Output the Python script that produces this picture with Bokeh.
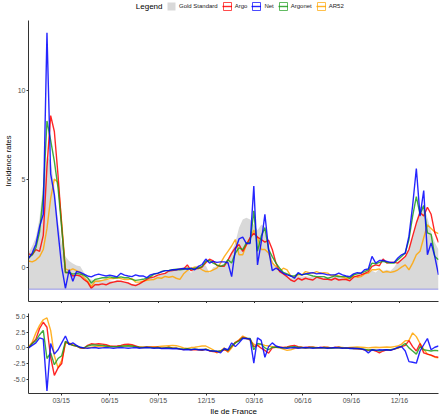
import pandas as pd
from bokeh.plotting import figure
from bokeh.models import (ColumnDataSource, Range1d, FixedTicker, DatetimeTickFormatter,
                          Legend, LegendItem, Span, NumeralTickFormatter, Label)
from bokeh.layouts import column
from bokeh.embed import file_html
from bokeh.resources import INLINE

# ---------------- data (weekly) ----------------
first_week = "2014-12-29"

gold_standard = [0.8, 1.2, 1.7, 2.8, 4.8, 6.3, 6.0, 4.6, 2.6, 1.3, 0.6, 0.35, 0.2, 0.1, 0.05, -0.3, -0.6, -0.7, -0.75, -0.7,
                 -0.75, -0.7, -0.75, -0.8, -0.75, -0.8, -0.85, -0.9,
                 -0.95, -0.95, -0.9, -0.8, -0.75, -0.65, -0.55, -0.5, -0.4, -0.3, -0.25, -0.2, -0.1, -0.05, 0.0, 0.05,
                 -0.35, 0.05, 0.1, 0.05, 0.1, -0.35, 0.0, 0.05, 0.1, 0.2, 0.45, 0.9,
                 1.4, 2.24, 2.7, 2.8, 2.7, 2.4, 2.1, 2.4, 2.3, 1.4, 0.4, -0.06, -0.15, -0.35, -0.5, -0.6, -0.6, -0.5,
                 -0.55, -0.5, -0.55, -0.55, -0.55, -0.55, -0.6, -0.6, -0.6,
                 -0.55, -0.55, -0.6, -0.6, -0.6, -0.55, -0.5, -0.5, -0.4, -0.3, -0.2, -0.3, -0.1, -0.2, -0.15, -0.2,
                 0.0, 0.3, 0.4, 0.6, 1.0, 1.8, 2.6, 3.4, 3.5, 2.8, 2.0, 1.4, 1.0]
argo = [0.75, 0.7, 1.0, 0.9, 1.8, 5.7, 8.6, 7.7, 5.2, 2.3, -0.3, -0.3, -0.5, -0.45, -0.5, -0.7, -0.85, -1.2, -1.0, -1.0,
        -0.95, -1.0, -0.9, -0.85, -0.8, -0.8, -0.85, -0.9,
        -1.0, -1.05, -0.95, -0.82, -0.7, -0.6, -0.55, -0.45, -0.4, -0.35, -0.22, -0.2, -0.15, -0.12, -0.1, 0.13,
        -0.2, -0.1, -0.08, 0.0, 0.25, 0.45, 0.35, 0.1, 0.05, 0.05, 0.4, 0.8,
        1.1, 1.28, 0.9, 1.28, 1.67, 1.92, 1.7, 1.57, 1.42, 1.53, 1.0, 0.23, -0.25, -0.38, -0.54, -0.73, -0.82,
        -0.63, -0.73, -0.63, -0.69, -0.73, -0.57, -0.63, -0.69, -0.69, -0.73,
        -0.63, -0.73, -0.7, -0.7, -0.77, -0.57, -0.5, -0.44, -0.35, -0.25, 0.04, 0.13, 0.08, 0.46, 0.23, 0.27,
        0.27, 0.23, 0.42, 0.6, 1.0, 1.76, 2.5, 3.1, 2.9, 3.4, 3.0, 1.95, 1.4]
net = [0.5, 0.8, 1.3, 2.3, 3.0, 13.3, 5.3, 4.1, 2.0, 0.0, -1.2, -0.15, -0.8, -0.25, -0.3, -0.4, -0.5, -0.55, -0.45, -0.4,
       -0.45, -0.5, -0.45, -0.5, -0.55, -0.35, -0.45, -0.5,
       -0.54, -0.44, -0.5, -0.5, -0.6, -0.44, -0.38, -0.34, -0.27, -0.2, -0.2, -0.15, -0.15, -0.1, -0.08, -0.12,
       -0.06, -0.15, 0.04, 0.15, 0.46, 0.23, 0.33, 0.27, 0.3, 0.3, 0.25, -0.54,
       1.0, 1.6, 1.7, 1.34, 1.34, 4.6, 0.13, 1.4, 3.0, 1.0, -0.2, -0.06, -0.19, -0.35, -0.44, -0.5, -0.63, -0.31,
       -0.44, -0.38, -0.35, -0.31, -0.38, -0.35, -0.38, -0.44, -0.44,
       -0.44, -0.34, -0.44, -0.5, -0.54, -0.38, -0.31, -0.35, -0.15, -0.1, 0.61, 0.23, 0.38, 0.38, 0.33, 0.27,
       0.27, 0.52, 0.7, 0.8, 1.76, 3.5, 5.6, 2.9, 4.35, 0.7, 1.38, 0.6, -0.44]
argonet = [0.5, 0.7, 1.1, 2.0, 4.1, 8.3, 7.2, 6.0, 4.5, 2.2, -0.3, -0.3, -0.4, -0.35, -0.4, -0.45, -0.6, -0.9, -0.7, -0.65,
           -0.6, -0.6, -0.55, -0.6, -0.6, -0.55, -0.6, -0.6,
           -0.69, -0.75, -0.72, -0.69, -0.63, -0.54, -0.4, -0.35, -0.25, -0.2, -0.19, -0.15, -0.12, -0.15, -0.12,
           -0.06, -0.12, -0.06, -0.06, 0.04, 0.33, 0.38, 0.23, 0.13, 0.04, 0.13, 0.42, 0.23,
           0.8, 1.1, 1.0, 1.38, 1.4, 3.2, 0.9, 1.76, 2.24, 1.0, 0.6, 0.23, -0.06, -0.3, -0.38, -0.5, -0.5, -0.38,
           -0.44, -0.38, -0.44, -0.5, -0.54, -0.54, -0.54, -0.63, -0.57,
           -0.5, -0.54, -0.54, -0.54, -0.63, -0.44, -0.38, -0.34, -0.25, -0.15, 0.23, 0.19, 0.27, 0.33, 0.27, 0.23,
           0.23, 0.42, 0.61, 0.8, 1.57, 2.9, 4.0, 3.0, 3.5, 1.95, 1.86, 0.6, 0.42]
ar52 = [0.35, 0.3, 0.4, 0.6, 1.0, 2.2, 3.9, 5.0, 4.8, 2.5, -0.1, -0.2, -0.1, -0.2, -0.3, -0.6, -0.8, -1.1, -0.8, -0.8,
        -0.75, -0.7, -0.65, -0.65, -0.6, -0.65, -0.7, -0.7,
        -0.65, -0.85, -0.85, -0.8, -0.75, -0.72, -0.7, -0.6, -0.63, -0.53, -0.57, -0.53, -0.63, -0.69, -0.38,
        -0.19, -0.06, 0.0, 0.0, -0.15, -0.25, -0.25, -0.15, -0.06, 0.23, 0.6, 0.9, 1.2,
        1.57, 0.7, 0.7, 1.28, 1.67, 2.1, 1.67, 1.0, 1.0, 0.8, 0.23, 0.04, -0.25, -0.06, -0.15, -0.5, -0.57, -0.44,
        -0.44, -0.25, -0.31, -0.34, -0.25, -0.34, -0.31, -0.34, -0.5,
        -0.44, -0.5, -0.57, -0.63, -0.63, -0.5, -0.57, -0.54, -0.38, -0.34, -0.15, -0.15, -0.1, -0.3, -0.25,
        -0.3, -0.25, -0.15, 0.0, 0.13, -0.15, 0.23, 0.7, 0.9, 1.67, 2.4, 2.2, 2.0, 1.9]

# residuals shown in the lower panel
res_argo = [0.0, 0.7, 1.4, 3.1, 4.1, 3.3, -1.5, -4.4, -3.2, -2.5,
            1.0, 0.7, 0.4, 0.3, 0.0, -0.05, 0.4, 0.65, 0.6, 0.65,
            0.6, 0.5, 0.3, 0.25, 0.3, 0.4, 0.55, 0.6, 0.5, 0.3,
            0.1, 0.05, 0.15, 0.1, 0.05, 0.1, -0.05, 0.0, 0.1, 0.0,
            -0.05, -0.2, -0.25, -0.2, -0.3, -0.25, -0.3, -0.4, -0.2, -0.5,
            -0.6, -0.65, -0.5, -0.3, -0.5, 0.2, 0.9, 1.2, 1.7, 1.5,
            1.4, 0.2, 0.4, -0.05, -0.4, -0.85, 0.0, 0.1, 0.1, 0.05,
            0.15, 0.3, 0.4, 0.2, 0.1, 0.05, 0.15, 0.1, 0.0, 0.05,
            0.1, 0.05, 0.0, 0.05, 0.1, 0.0, -0.05, 0.0, -0.1, -0.15,
            -0.2, -0.3, -0.4, -0.3, -0.5, -0.8, -0.5, -0.3, -0.35, -0.2,
            -0.05, 0.2, 0.4, 1.15, 0.2, -0.5, 0.7, -0.8, -1.0, -1.15,
            -1.4, -1.5]
res_net = [0.0, 0.4, 0.8, 1.6, 1.4, -6.9, 0.7, -1.0, -0.3, 0.8,
           1.9, 0.5, 0.8, 0.4, 0.1, 0.0, -0.05, 0.0, 0.05, -0.05,
           0.0, 0.05, 0.0, -0.05, 0.0, 0.05, 0.0, -0.05, 0.0, 0.05,
           -0.05, 0.0, 0.05, 0.0, -0.05, 0.0, -0.1, -0.05, -0.1, -0.15,
           -0.1, -0.2, -0.3, -0.25, -0.3, -0.2, -0.3, -0.25, -0.3, -0.45,
           -0.5, -0.55, -0.8, -0.1, -0.3, 0.8, 0.2, 0.8, 1.5, 1.5,
           1.4, -2.45, 1.6, 1.2, -1.5, 0.2, 0.8, 0.3, 0.1, 0.0,
           -0.05, 0.0, 0.05, -0.05, 0.0, 0.05, 0.0, -0.05, 0.0, 0.05,
           0.0, -0.05, 0.0, 0.05, 0.0, -0.05, 0.0, -0.1, -0.05, -0.1,
           -0.15, -0.3, -0.8, -0.3, -0.4, -0.3, -0.35, -0.3, -0.4, -0.2,
           0.1, 0.2, -0.5, -2.2, -2.3, -2.45, -0.5, 0.5, 1.5, -0.3,
           0.1, 0.3]
res_argonet = [0.0, 0.7, 1.15, 2.1, 2.8, -1.7, -0.8, -2.7, -1.7, -1.25,
               1.05, 0.6, 0.4, 0.3, 0.05, 0.0, 0.3, 0.45, 0.45, 0.4,
               0.4, 0.3, 0.2, 0.2, 0.2, 0.25, 0.3, 0.35, 0.3, 0.2,
               0.1, 0.05, 0.1, 0.05, 0.0, 0.05, -0.05, 0.0, 0.05, -0.05,
               -0.05, -0.15, -0.2, -0.15, -0.25, -0.2, -0.25, -0.3, -0.2, -0.4,
               -0.5, -0.55, -0.5, -0.2, -0.4, 0.3, 0.8, 1.1, 1.6, 1.5,
               1.5, -0.3, 0.7, 0.6, 0.0, -0.3, 0.1, 0.1, 0.05, 0.0,
               0.05, 0.15, 0.2, 0.1, 0.05, 0.0, 0.05, 0.05, 0.0, 0.0,
               0.05, 0.0, -0.05, 0.0, 0.05, 0.0, -0.05, -0.05, -0.1, -0.1,
               -0.15, -0.25, -0.35, -0.3, -0.35, -0.5, -0.35, -0.3, -0.3, -0.15,
               0.0, 0.3, 0.7, 0.0, -0.5, -1.0, 0.2, -0.3, -0.4, -0.5,
               -0.4, -0.45]
res_ar52 = [0.2, 0.9, 2.4, 3.6, 4.5, 4.8, 2.8, -1.25, -3.2, -2.0,
            0.7, 0.8, 0.5, 0.3, 0.0, -0.05, 0.0, 0.1, 0.2, 0.25,
            0.2, 0.2, 0.25, 0.2, 0.15, 0.25, 0.3, 0.3, 0.25, 0.2,
            0.15, 0.1, 0.1, 0.15, 0.2, 0.2, 0.25, 0.3, 0.35, 0.4,
            0.35, 0.2, 0.0, -0.1, 0.05, 0.1, 0.2, 0.3, 0.3, 0.0,
            -0.3, -0.8, -0.5, 0.0, -0.7, 0.0, 0.8, 1.3, 1.9, 1.6,
            1.2, 0.6, 0.4, 0.6, 0.4, 0.3, 0.2, 0.1, 0.0, -0.2,
            -0.4, -0.3, -0.1, 0.0, 0.05, -0.05, 0.0, 0.1, 0.05, 0.0,
            0.05, 0.1, 0.0, 0.05, 0.1, 0.05, 0.0, 0.05, 0.1, 0.15,
            0.1, 0.05, 0.0, 0.05, 0.1, 0.05, 0.1, 0.15, 0.1, 0.2,
            0.3, 0.6, 1.15, 1.2, 2.4, 1.8, 0.7, -0.2, -1.0, -1.2,
            -1.5, -1.6]

area_floor = -1.25
series_names = ["Argo", "Net", "Argonet", "AR52"]
series_colors = ["#ff0000", "#0000ff", "#1f9e1f", "#ffa500"]
x_tick_dates = ["2015-03-01", "2015-06-01", "2015-09-01", "2015-12-01",
                "2016-03-01", "2016-06-01", "2016-09-01", "2016-12-01"]
top_y_ticks = [0, 5, 10]
bottom_y_ticks = [-5.0, -2.5, 0.0, 2.5, 5.0]
top_y_range = (-1.95, 14.0)
bottom_y_range = (-7.3, 5.5)
x_title = "Ile de France"
y_title = "Incidence rates"
legend_title = "Legend"

# ---------------- build ----------------
dates = pd.date_range(first_week, periods=len(gold_standard), freq="7D")
src = ColumnDataSource(dict(date=dates, gold=gold_standard, Argo=argo, Net=net, Argonet=argonet, AR52=ar52,
                            rArgo=res_argo, rNet=res_net, rArgonet=res_argonet, rAR52=res_ar52))
tick_ms = [pd.Timestamp(d).value / 1e6 for d in x_tick_dates]
FONT = "Liberation Sans"
fmt = DatetimeTickFormatter(days="%m/%y", months="%m/%y", years="%m/%y")
x_start, x_end = dates[0], dates[-1]
draw_order = ["AR52", "Argo", "Argonet", "Net"]
GOLD_FILL = "#d9d9d9"
W = 440


def style_axes(p):
    p.xgrid.visible = False
    p.ygrid.visible = False
    p.outline_line_color = None
    for ax in (p.xaxis[0], p.yaxis[0]):
        ax.axis_line_color = "#333333"
        ax.major_tick_line_color = "#333333"
        ax.major_tick_in = 0
        ax.major_tick_out = 2
        ax.minor_tick_line_color = None
        ax.major_label_text_font = FONT
        ax.major_label_text_color = "#4d4d4d"
        ax.major_label_text_font_size = "7px"
        ax.major_label_standoff = 1
        ax.axis_label_text_font = FONT
        ax.axis_label_text_font_style = "normal"
        ax.axis_label_text_color = "#000000"
    p.xaxis.ticker = FixedTicker(ticks=tick_ms)
    p.xaxis.formatter = fmt


# ---- legend strip (its own small canvas; the glyphs lie outside its y-range) ----
pl = figure(width=W, height=12, x_axis_type="datetime", output_backend="svg", toolbar_location=None,
            x_range=Range1d(x_start, x_end), y_range=Range1d(1000, 1001), title=None,
            min_border_left=0, min_border_right=2, min_border_top=0, min_border_bottom=0)
pl.axis.visible = False
pl.grid.visible = False
pl.outline_line_color = None
leg_area = pl.varea(x="date", y1=area_floor, y2="gold", source=src, fill_color=GOLD_FILL)
items = [LegendItem(label="Gold Standard", renderers=[leg_area])]
for name, col in zip(series_names, series_colors):
    box = pl.rect(x="date", y=name, width=0, height=0, source=src, fill_color="white", fill_alpha=0.7,
                  line_color=col, line_width=1.0, line_alpha=0.7)
    ln = pl.line(x="date", y=name, source=src, line_color=col, line_width=1.4, line_alpha=0.85)
    items.append(LegendItem(label=name, renderers=[box, ln]))
LEG_X = 138
legend = Legend(items=items, orientation="horizontal", location=(LEG_X, 1),
                glyph_width=10, glyph_height=10, label_standoff=3, spacing=4, padding=0, margin=0,
                border_line_color=None, background_fill_alpha=0,
                label_text_font=FONT, label_text_font_size="6px", label_text_color="#222222",
                label_height=10, label_width=0)
pl.add_layout(legend)
pl.add_layout(Label(x=LEG_X - 4, y=6, x_units="screen", y_units="screen", text=legend_title,
                    text_font=FONT, text_font_size="8px", text_font_style="normal", text_color="#000000",
                    text_align="right", text_baseline="middle"))

# ---- upper panel ----
p1 = figure(width=W, height=291, x_axis_type="datetime", output_backend="svg",
            toolbar_location=None, x_range=Range1d(x_start, x_end), y_range=Range1d(*top_y_range),
            min_border_left=0, min_border_right=2, min_border_top=8, min_border_bottom=0)
style_axes(p1)
p1.yaxis.ticker = FixedTicker(ticks=top_y_ticks)
p1.yaxis.axis_label = y_title
p1.yaxis.axis_label_text_font_size = "7.5px"
p1.yaxis.axis_label_standoff = 2
p1.xaxis.major_label_overrides = {t: "" for t in tick_ms}
p1.xaxis.major_label_text_font_size = "2px"
p1.xaxis.major_label_standoff = 0

p1.varea(x="date", y1=area_floor, y2="gold", source=src, fill_color=GOLD_FILL, fill_alpha=1.0)
p1.add_layout(Span(location=area_floor, dimension="width", line_color="#9393e8", line_width=1.0))
for name in draw_order:
    col = series_colors[series_names.index(name)]
    p1.line(x="date", y=name, source=src, line_color=col, line_width=1.4, line_alpha=0.85)

# ---- lower panel ----
p2 = figure(width=W, height=115, x_axis_type="datetime", output_backend="svg", toolbar_location=None,
            x_range=Range1d(x_start, x_end), y_range=Range1d(*bottom_y_range),
            min_border_left=0, min_border_right=2, min_border_top=10, min_border_bottom=0)
style_axes(p2)
p2.yaxis.ticker = FixedTicker(ticks=bottom_y_ticks)
p2.yaxis.formatter = NumeralTickFormatter(format="0.0")
p2.xaxis.axis_label = x_title
p2.xaxis.axis_label_text_font_size = "8px"
p2.xaxis.axis_label_standoff = 0
for name in draw_order:
    col = series_colors[series_names.index(name)]
    p2.line(x="date", y="r" + name, source=src, line_color=col, line_width=1.4, line_alpha=0.85)

layout = column(pl, p1, p2, spacing=0)
open("out.html", "w").write(file_html(layout, INLINE))
